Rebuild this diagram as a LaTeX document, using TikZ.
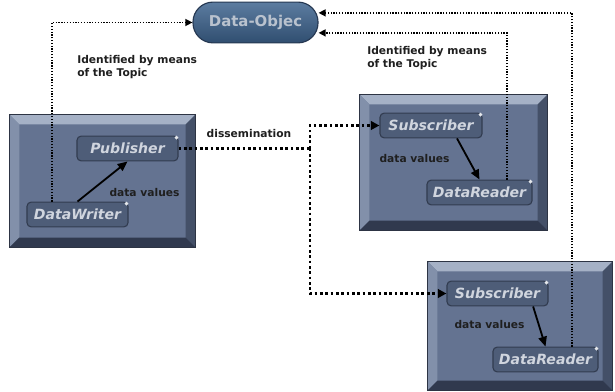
\documentclass[tikz,border=0pt]{standalone}
\usepackage{fontspec}
\setmainfont{DejaVu Sans}
\usepackage{tikz}
\usetikzlibrary{arrows.meta,positioning}

\definecolor{panelface}{RGB}{100,115,145}
\definecolor{paneledge}{RGB}{45,52,68}
\definecolor{paneltop}{RGB}{165,177,198}
\definecolor{panelleft}{RGB}{130,144,170}
\definecolor{panelright}{RGB}{68,80,104}
\definecolor{panelbottom}{RGB}{48,57,78}
\definecolor{partface}{RGB}{78,93,120}
\definecolor{partedge}{RGB}{50,60,80}
\definecolor{parttext}{RGB}{208,213,222}
\definecolor{objtop}{RGB}{92,124,160}
\definecolor{objbottom}{RGB}{48,78,112}
\definecolor{objedge}{RGB}{38,56,82}
\definecolor{objtext}{RGB}{185,194,206}

\begin{document}
\begin{tikzpicture}
[
	x=0.025cm, y=-0.025cm,
	panel/.style = {rectangle, fill=panelface, draw=paneledge, line width=0.5pt, inner sep=0pt},
	part/.style = {rectangle, rounded corners=3pt, fill=partface, draw=partedge, line width=0.8pt, inner sep=0pt, minimum height=0.62cm, text=parttext, font=\fontsize{10}{12}\selectfont\bfseries\itshape},
	objec/.style = {rectangle, rounded corners=0.5cm, top color=objtop, bottom color=objbottom, draw=objedge, line width=0.8pt, minimum width=3.125cm, minimum height=1.02cm, inner sep=0pt, text=objtext, font=\fontsize{10.6}{12}\selectfont\bfseries},
	lbl/.style = {inner sep=0pt, text=black!88, font=\fontsize{7.6}{9.2}\selectfont\bfseries},
	flow/.style = {-{Triangle[length=7pt,width=6pt]}, line width=1.3pt},
	topic/.style = {-{Triangle[length=5pt,width=5pt]}, line width=0.9pt, dash pattern=on 0.9pt off 1.1pt},
	spread/.style = {-{Triangle[length=6pt,width=6pt]}, line width=1.9pt, dash pattern=on 1.9pt off 1.9pt}
]
\useasboundingbox (0,0) rectangle (615,392);

% panels
\node[panel, minimum width=4.625cm, minimum height=3.3cm] (pubbox) at (102.5,181) {};
\node[panel, minimum width=4.675cm, minimum height=3.375cm] (subbox1) at (453.5,162.5) {};
\node[panel, minimum width=4.6cm, minimum height=3.2cm] (subbox2) at (520,326) {};

\foreach \p in {pubbox,subbox1,subbox2} {
	\fill[paneltop] (\p.north west) -- (\p.north east) -- ([shift={(-7pt,-7pt)}]\p.north east) -- ([shift={(7pt,-7pt)}]\p.north west) -- cycle;
	\fill[panelleft] (\p.north west) -- ([shift={(7pt,-7pt)}]\p.north west) -- ([shift={(7pt,7pt)}]\p.south west) -- (\p.south west) -- cycle;
	\fill[panelright] (\p.north east) -- ([shift={(-7pt,-7pt)}]\p.north east) -- ([shift={(-7pt,7pt)}]\p.south east) -- (\p.south east) -- cycle;
	\fill[panelbottom] (\p.south west) -- ([shift={(7pt,7pt)}]\p.south west) -- ([shift={(-7pt,7pt)}]\p.south east) -- (\p.south east) -- cycle;
	\draw[paneledge, line width=0.5pt] (\p.north west) rectangle (\p.south east);
}

\node[objec] (dataobj) at (255.5,22.5) {Data-Objec};

\node[part, minimum width=2.525cm] (publisher) at (127.5,148.5) {Publisher};
\node[part, minimum width=2.525cm] (writer) at (77.5,214.5) {DataWriter};
\node[part, minimum width=2.55cm] (subscriber1) at (431,125.5) {Subscriber};
\node[part, minimum width=2.625cm] (reader1) at (479.5,192.5) {DataReader};
\node[part, minimum width=2.525cm] (subscriber2) at (497.5,293.5) {Subscriber};
\node[part, minimum width=2.625cm] (reader2) at (545.5,359.5) {DataReader};

\foreach \n in {publisher,writer,subscriber1,reader1,subscriber2,reader2}
	\fill[white!85!partface] ([shift={(-1.5pt,-1.5pt)}]\n.north east) circle (1.4pt);

% labels
\node[lbl, align=left, anchor=west] (topicl) at (77,67) {Identified by means\\of the Topic};
\node[lbl, align=left, anchor=west] (topicr) at (367,58) {Identified by means\\of the Topic};
\node[lbl] (dissem) at (249,134) {dissemination};
\node[lbl] (values0) at (144.5,193) {data values};
\node[lbl] (values1) at (414.5,159) {data values};
\node[lbl] (values2) at (489.5,325) {data values};

% data flow inside the panels
\draw[flow] (writer.north) -- (publisher.south);
\draw[flow] ([xshift=0.65cm]subscriber1.south) -- (reader1.north);
\draw[flow] ([xshift=0.89cm]subscriber2.south) -- (reader2.north);

% dissemination
\coordinate (split) at (310,148.5);
\draw[spread, -] (publisher.east) -- (split);
\draw[spread] (split) |- (subscriber1.west);
\draw[spread] (split) |- (subscriber2.west);

% topic links
\draw[topic] ([xshift=-0.64cm]writer.north) |- (dataobj.west);
\draw[topic] ([xshift=0.69cm]reader1.north) |- ([yshift=-0.26cm]dataobj.east);
\draw[topic] ([xshift=0.66cm]reader2.north) |- ([yshift=0.24cm]dataobj.east);

\end{tikzpicture}
\end{document}
